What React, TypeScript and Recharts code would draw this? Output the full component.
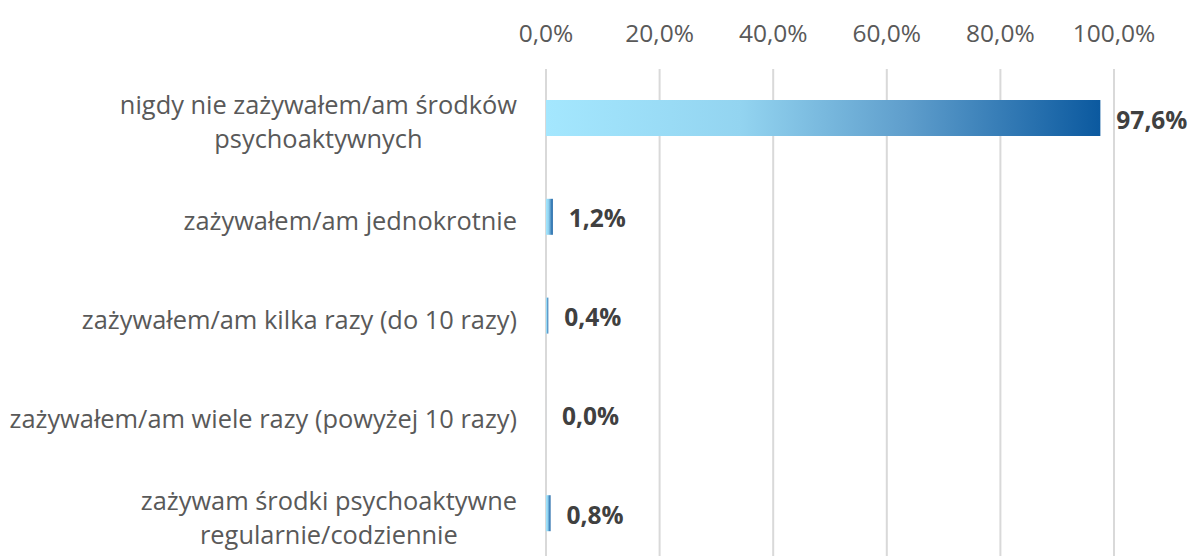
import { Bar, BarChart, CartesianGrid, LabelList, XAxis, YAxis } from "recharts";

const categories = [
  "nigdy nie zażywałem/am środków psychoaktywnych",
  "zażywałem/am jednokrotnie",
  "zażywałem/am kilka razy (do 10 razy)",
  "zażywałem/am wiele razy (powyżej 10 razy)",
  "zażywam środki psychoaktywne regularnie/codziennie",
];
const shares = [97.6, 1.2, 0.4, 0.0, 0.8];
const tickValues = [0, 20, 40, 60, 80, 100];

// how the long labels are broken into lines, like in the original
const labelLines: Record<string, string[]> = {
  "nigdy nie zażywałem/am środków psychoaktywnych": [
    "nigdy nie zażywałem/am środków",
    "psychoaktywnych",
  ],
  "zażywam środki psychoaktywne regularnie/codziennie": [
    "zażywam środki psychoaktywne",
    "regularnie/codziennie",
  ],
};

const data = categories.map((name, i) => ({ name, value: shares[i] }));

const FONT = "'Open Sans', 'Noto Sans', sans-serif";
const TEXT = "#595959";
const GRID = "#d9d9d9";
const CAT_SIZE = 25.4;
const LINE_H = 34;

const pct = (v: number) => v.toFixed(1).replace(".", ",") + "%";

let ctx: CanvasRenderingContext2D | null = null;
function textWidth(s: string, size: number) {
  if (!ctx) ctx = document.createElement("canvas").getContext("2d");
  if (!ctx) return s.length * size * 0.5;
  ctx.font = `${size}px ${FONT}`;
  return ctx.measureText(s).width;
}

function CategoryTick({ x, y, payload }: any) {
  const lines = labelLines[payload.value] ?? [payload.value];
  const right = x - 27;
  const w = Math.max(...lines.map((l) => textWidth(l, CAT_SIZE)));
  const cx = right - w / 2;
  const startY = y - ((lines.length - 1) * LINE_H) / 2 + 3;
  return (
    <text
      fill={TEXT}
      fontSize={CAT_SIZE}
      fontFamily={FONT}
      textAnchor={lines.length > 1 ? "middle" : "end"}
      dominantBaseline="central"
    >
      {lines.map((l, i) => (
        <tspan key={i} x={lines.length > 1 ? cx : right} y={startY + i * LINE_H}>
          {l}
        </tspan>
      ))}
    </text>
  );
}

function PctTick({ x, payload }: any) {
  return (
    <text
      x={x}
      y={32}
      fill={TEXT}
      fontSize={24.5}
      fontFamily={FONT}
      textAnchor="middle"
      dominantBaseline="central"
    >
      {pct(payload.value)}
    </text>
  );
}

function ValueLabel({ x, y, width, height, value }: any) {
  return (
    <text
      x={x + width + 16}
      y={y + height / 2 + 1}
      fill="#404040"
      fontSize={24.5}
      fontWeight="bold"
      fontFamily={FONT}
      dominantBaseline="central"
    >
      {pct(value)}
    </text>
  );
}

export default function App() {
  return (
    <div style={{ width: 1194, height: 556, overflow: "hidden", background: "#fff" }}>
      <style>{"body{margin:0;overflow:hidden}"}</style>
      <BarChart
        width={1194}
        height={570}
        data={data}
        layout="vertical"
        margin={{ top: 0, right: 80, bottom: 7, left: 0 }}
        barSize={36}
      >
        <defs>
          <linearGradient id="barFill" x1="0" y1="0" x2="1" y2="0">
            <stop offset="0%" stopColor="#a4e7fe" />
            <stop offset="35%" stopColor="#93d4f0" />
            <stop offset="65%" stopColor="#5f9ecc" />
            <stop offset="100%" stopColor="#0b599f" />
          </linearGradient>
        </defs>
        <CartesianGrid horizontal={false} stroke={GRID} strokeWidth={2} />
        <XAxis
          type="number"
          orientation="top"
          domain={[0, 100]}
          ticks={tickValues}
          height={69}
          axisLine={false}
          tickLine={false}
          tick={<PctTick />}
        />
        <YAxis
          type="category"
          dataKey="name"
          width={546}
          axisLine={false}
          tickLine={false}
          tickSize={0}
          tick={<CategoryTick />}
        />
        <Bar dataKey="value" fill="url(#barFill)" minPointSize={0.01} isAnimationActive={false}>
          <LabelList dataKey="value" content={<ValueLabel />} />
        </Bar>
      </BarChart>
    </div>
  );
}
